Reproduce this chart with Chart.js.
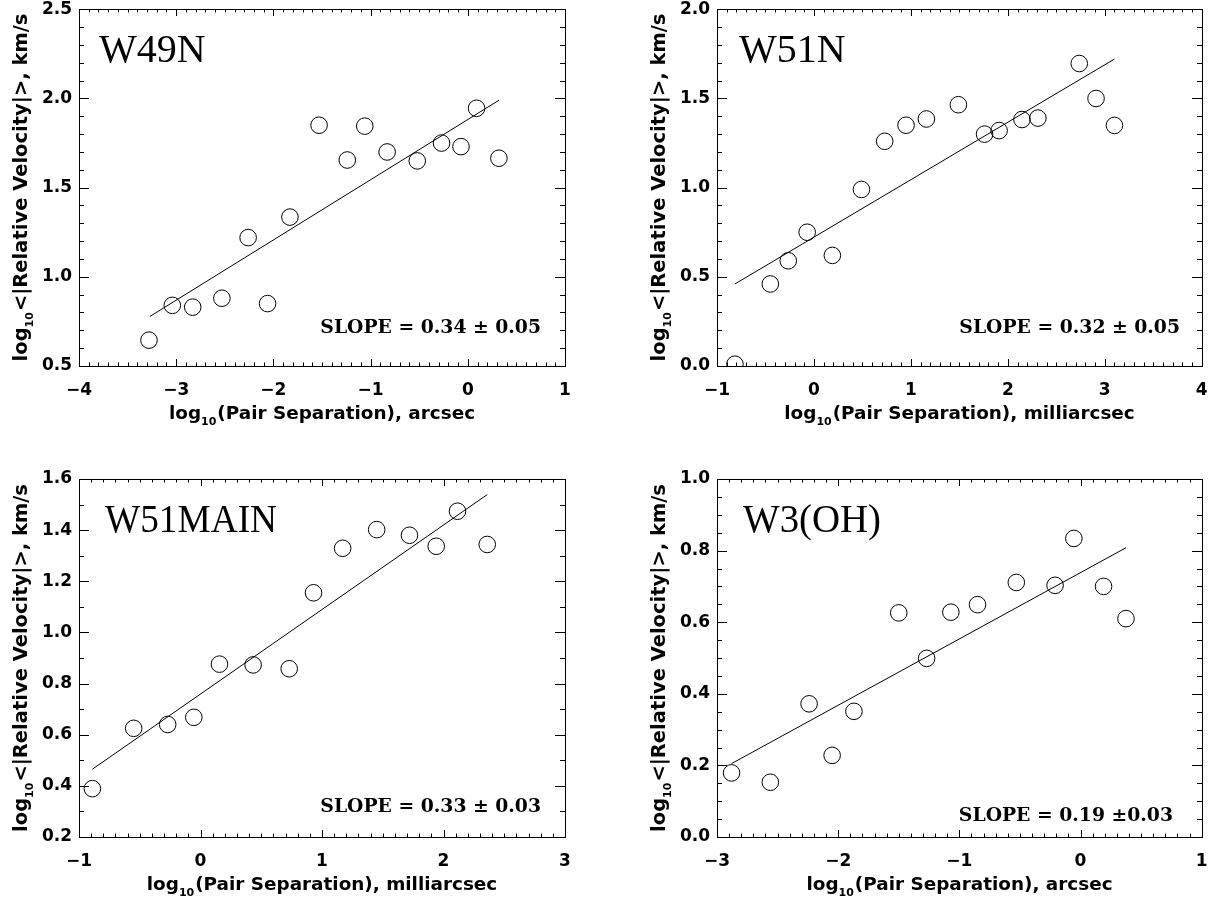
<!DOCTYPE html>
<html>
<head>
<meta charset="utf-8">
<script src="https://cdn.jsdelivr.net/npm/chart.js@4.4.1/dist/chart.umd.min.js"></script>
<style>
html,body{margin:0;padding:0;background:#fff;}
body{width:1211px;height:902px;position:relative;overflow:hidden;}
.pane{position:absolute;width:605px;height:451px;}
</style>
</head>
<body>
<div class="pane" style="left:0;top:0"><canvas id="c1" width="605" height="451"></canvas></div>
<div class="pane" style="left:606px;top:0"><canvas id="c2" width="605" height="451"></canvas></div>
<div class="pane" style="left:0;top:451px"><canvas id="c3" width="605" height="451"></canvas></div>
<div class="pane" style="left:606px;top:451px"><canvas id="c4" width="605" height="451"></canvas></div>
<script>
// ---------------- DATA ----------------
// W49N (separation in arcsec)
const w49nSep = [-3.28, -3.04, -2.83, -2.53, -2.26, -2.06, -1.83, -1.53, -1.24, -1.06, -0.83, -0.52, -0.27, -0.07, 0.09, 0.32];
const w49nVel = [0.645, 0.84, 0.83, 0.88, 1.22, 0.85, 1.335, 1.85, 1.655, 1.845, 1.70, 1.65, 1.75, 1.73, 1.945, 1.665];
const w49nFitSep = [-3.27, 0.32];
const w49nFitVel = [0.778, 1.99];
const w49nXTicks = [-4, -3, -2, -1, 0, 1];
const w49nYTicks = [0.5, 1.0, 1.5, 2.0, 2.5];

// W51N (separation in milliarcsec)
const w51nSep = [-0.815, -0.45, -0.265, -0.07, 0.19, 0.49, 0.73, 0.95, 1.16, 1.49, 1.76, 1.91, 2.146, 2.31, 2.737, 2.91, 3.10];
const w51nVel = [0.01, 0.46, 0.59, 0.75, 0.62, 0.99, 1.26, 1.35, 1.385, 1.465, 1.30, 1.32, 1.382, 1.39, 1.696, 1.50, 1.349];
const w51nFitSep = [-0.815, 3.10];
const w51nFitVel = [0.46, 1.721];
const w51nXTicks = [-1, 0, 1, 2, 3, 4];
const w51nYTicks = [0.0, 0.5, 1.0, 1.5, 2.0];

// W51MAIN (separation in milliarcsec)
const w51mSep = [-0.89, -0.55, -0.27, -0.055, 0.156, 0.433, 0.73, 0.93, 1.17, 1.45, 1.72, 1.94, 2.115, 2.36];
const w51mVel = [0.389, 0.625, 0.64, 0.668, 0.876, 0.873, 0.858, 1.155, 1.329, 1.402, 1.38, 1.337, 1.474, 1.344];
const w51mFitSep = [-0.89, 2.36];
const w51mFitVel = [0.465, 1.539];
const w51mXTicks = [-1, 0, 1, 2, 3];
const w51mYTicks = [0.2, 0.4, 0.6, 0.8, 1.0, 1.2, 1.4, 1.6];

// W3(OH) (separation in arcsec)
const w3ohSep = [-2.88, -2.56, -2.24, -2.05, -1.87, -1.50, -1.27, -1.07, -0.85, -0.53, -0.21, -0.055, 0.19, 0.375];
const w3ohVel = [0.179, 0.153, 0.372, 0.228, 0.351, 0.626, 0.499, 0.628, 0.649, 0.711, 0.703, 0.834, 0.70, 0.61];
const w3ohFitSep = [-2.88, 0.375];
const w3ohFitVel = [0.205, 0.808];
const w3ohXTicks = [-3, -2, -1, 0, 1];
const w3ohYTicks = [0.0, 0.2, 0.4, 0.6, 0.8, 1.0];

const panelNames = ['W49N', 'W51N', 'W51MAIN', 'W3(OH)'];
const slopeTexts = ['SLOPE = 0.34 \u00b1 0.05', 'SLOPE = 0.32 \u00b1 0.05', 'SLOPE = 0.33 \u00b1 0.03', 'SLOPE = 0.19 \u00b10.03'];
const xUnits = ['arcsec', 'milliarcsec', 'milliarcsec', 'arcsec'];
const yTitleRest = '<|Relative Velocity|>, km/s';

// ---------------- LAYOUT / STYLE ----------------
const TICK_FONT = {family: "'DejaVu Sans', sans-serif", size: 17, weight: 'bold'};
const XTITLE_FONT = "bold 18.4px 'DejaVu Sans', sans-serif";
const YTITLE_FONT = "bold 19.5px 'DejaVu Sans', sans-serif";
const SUB_FONT = "bold 11px 'DejaVu Sans', sans-serif";
const NAME_FONT = "40px 'Liberation Serif', serif";
const SLOPE_FONT = "bold 18.8px 'DejaVu Serif', serif";

const panels = [
  {id:'c1', sep:w49nSep, vel:w49nVel, fx:w49nFitSep, fy:w49nFitVel, xt:w49nXTicks, yt:w49nYTicks, xMinor:0.1, yMinor:0.1,
   yW:79, xH:85, pad:{left:0,right:40,top:8,bottom:0}, nameDx:20, nameW:0, slopeDx:24, slopeDy:33},
  {id:'c2', sep:w51nSep, vel:w51nVel, fx:w51nFitSep, fy:w51nFitVel, xt:w51nXTicks, yt:w51nYTicks, xMinor:0.1, yMinor:0.1,
   yW:111, xH:85, pad:{left:0,right:9,top:8,bottom:0}, nameDx:22, nameW:0, slopeDx:22, slopeDy:33},
  {id:'c3', sep:w51mSep, vel:w51mVel, fx:w51mFitSep, fy:w51mFitVel, xt:w51mXTicks, yt:w51mYTicks, xMinor:0.1, yMinor:0.1,
   yW:79, xH:65, pad:{left:0,right:40,top:28,bottom:0}, nameDx:26, nameW:172, slopeDx:24, slopeDy:25},
  {id:'c4', sep:w3ohSep, vel:w3ohVel, fx:w3ohFitSep, fy:w3ohFitVel, xt:w3ohXTicks, yt:w3ohYTicks, xMinor:0.1, yMinor:0.05,
   yW:111, xH:65, pad:{left:0,right:9,top:28,bottom:0}, nameDx:26, nameW:138, slopeDx:29, slopeDy:16}
];

function drawLog(ctx, rest, cx, by, font) {
  ctx.font = font;
  const w1 = ctx.measureText('log').width;
  const w3 = ctx.measureText(rest).width;
  ctx.font = SUB_FONT;
  const w2 = ctx.measureText('10').width + 1;
  let x = cx - (w1 + w2 + w3) / 2;
  ctx.textAlign = 'left';
  ctx.textBaseline = 'alphabetic';
  ctx.font = font; ctx.fillText('log', x, by); x += w1;
  ctx.font = SUB_FONT; ctx.fillText('10', x, by + 6); x += w2;
  ctx.font = font; ctx.fillText(rest, x, by);
}

const framePlugin = {
  id: 'idlFrame',
  afterDatasetsDraw(chart, args, o) {
    const ctx = chart.ctx, a = chart.chartArea, xs = chart.scales.x, ys = chart.scales.y;
    const L = Math.round(a.left), R = Math.round(a.right), T = Math.round(a.top), B = Math.round(a.bottom);
    ctx.save();
    ctx.strokeStyle = '#000'; ctx.fillStyle = '#000'; ctx.lineWidth = 1;
    ctx.strokeRect(L + 0.5, T + 0.5, R - L, B - T);
    ctx.beginPath();
    let n = Math.round((xs.max - xs.min) / o.xMinor);
    for (let i = 0; i <= n; i++) {
      const v = xs.min + i * o.xMinor;
      const major = Math.abs(v - Math.round(v / o.xMajor) * o.xMajor) < 1e-6;
      const len = major ? 7 : 3.5;
      const px = Math.round(xs.getPixelForValue(v)) + 0.5;
      ctx.moveTo(px, B); ctx.lineTo(px, B - len);
      ctx.moveTo(px, T); ctx.lineTo(px, T + len);
    }
    n = Math.round((ys.max - ys.min) / o.yMinor);
    for (let i = 0; i <= n; i++) {
      const v = ys.min + i * o.yMinor;
      const major = Math.abs(v - Math.round(v / o.yMajor) * o.yMajor) < 1e-6;
      const len = major ? 10 : 5;
      const py = Math.round(ys.getPixelForValue(v)) + 0.5;
      ctx.moveTo(L, py); ctx.lineTo(L + len, py);
      ctx.moveTo(R, py); ctx.lineTo(R - len, py);
    }
    ctx.stroke();
    drawLog(ctx, '(Pair Separation), ' + o.unit, (L + R) / 2, B + 53, XTITLE_FONT);
    ctx.save();
    ctx.translate(L - 52, (T + B) / 2);
    ctx.rotate(-Math.PI / 2);
    drawLog(ctx, yTitleRest, 0, 0, YTITLE_FONT);
    ctx.restore();
    ctx.font = NAME_FONT; ctx.textAlign = 'left'; ctx.textBaseline = 'alphabetic';
    if (o.nameW) ctx.fillText(o.name, L + o.nameDx, T + 53, o.nameW);
    else ctx.fillText(o.name, L + o.nameDx, T + 53);
    ctx.font = SLOPE_FONT; ctx.textAlign = 'right';
    ctx.fillText(o.slope, R - o.slopeDx, B - o.slopeDy);
    ctx.restore();
  }
};

function fmtX(v) { return (v < 0 ? '\u2212' : '') + Math.abs(v).toString(); }
function fmtY(v) { return v.toFixed(1); }

panels.forEach((p, k) => {
  const xMajor = p.xt[1] - p.xt[0], yMajor = +(p.yt[1] - p.yt[0]).toFixed(3);
  new Chart(document.getElementById(p.id), {
    type: 'scatter',
    data: {
      datasets: [
        {
          data: p.sep.map((x, i) => ({x: x, y: p.vel[i]})),
          showLine: false, pointStyle: 'circle', pointRadius: 8.3, pointBorderWidth: 1,
          pointBorderColor: '#000', pointBackgroundColor: 'rgba(0,0,0,0)'
        },
        {
          data: p.fx.map((x, i) => ({x: x, y: p.fy[i]})),
          showLine: true, pointRadius: 0, borderColor: '#000', borderWidth: 1, fill: false
        }
      ]
    },
    options: {
      responsive: false, animation: false, devicePixelRatio: 1, events: [],
      layout: {padding: p.pad},
      plugins: {
        legend: {display: false}, tooltip: {enabled: false},
        idlFrame: {xMinor: p.xMinor, yMinor: p.yMinor, xMajor: xMajor, yMajor: yMajor,
          unit: xUnits[k], name: panelNames[k], slope: slopeTexts[k],
          nameDx: p.nameDx, nameW: p.nameW, slopeDx: p.slopeDx, slopeDy: p.slopeDy}
      },
      scales: {
        x: {
          type: 'linear', position: 'bottom', min: p.xt[0], max: p.xt[p.xt.length - 1],
          afterBuildTicks: s => { s.ticks = p.xt.map(v => ({value: v})); },
          ticks: {font: TICK_FONT, color: '#000', padding: 14, maxRotation: 0, autoSkip: false, callback: v => fmtX(v)},
          grid: {display: false, drawTicks: false}, border: {display: false},
          afterFit: s => { s.height = p.xH; s.paddingLeft = 0; s.paddingRight = 0; s.paddingTop = 0; s.paddingBottom = 0; }
        },
        y: {
          type: 'linear', position: 'left', min: p.yt[0], max: p.yt[p.yt.length - 1],
          afterBuildTicks: s => { s.ticks = p.yt.map(v => ({value: v})); },
          ticks: {font: TICK_FONT, color: '#000', padding: 7, autoSkip: false, callback: v => fmtY(v)},
          grid: {display: false, drawTicks: false}, border: {display: false},
          afterFit: s => { s.width = p.yW; s.paddingLeft = 0; s.paddingRight = 0; s.paddingTop = 0; s.paddingBottom = 0; }
        }
      }
    },
    plugins: [framePlugin]
  });
});
</script>
</body>
</html>
